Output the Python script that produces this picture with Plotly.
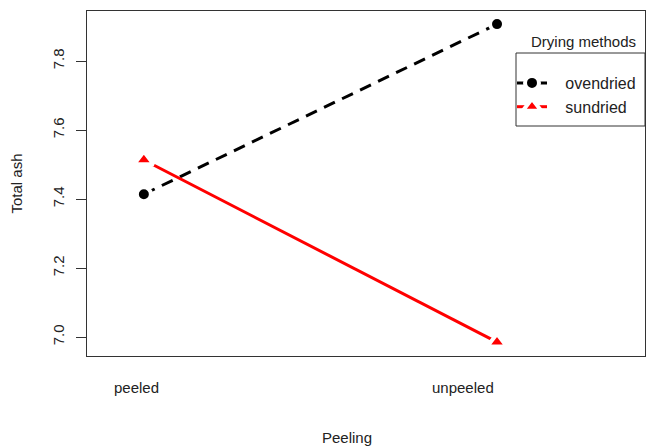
import plotly.graph_objects as go

peeling = ["peeled", "unpeeled"]
x_pos = [1, 2]
ovendried = [7.414, 7.907]
sundried = [7.513, 6.985]
y_ticks = [7.0, 7.2, 7.4, 7.6, 7.8]

font = "Liberation Sans, Arial, sans-serif"
W, H = 649, 448
L, R, T, B = 87, 4, 11, 92
pw, ph = W - L - R, H - T - B
PAD = "\u00a0\u00a0\u00a0"

def px_x(p):
    return (p - L) / pw

def px_y(p):
    return (H - B - p) / ph

fig = go.Figure()
fig.add_trace(go.Scatter(
    x=x_pos, y=ovendried, name=PAD + "ovendried", mode="lines+markers",
    line=dict(color="black", width=3, dash="12px,8px"),
    marker=dict(symbol="circle", size=14, color="black", line=dict(color="white", width=4)),
))
fig.add_trace(go.Scatter(
    x=x_pos, y=sundried, name=PAD + "sundried", mode="lines+markers",
    line=dict(color="red", width=3),
    marker=dict(symbol="triangle-up", size=17, color="red", line=dict(color="white", width=4)),
))

for xv, lab, off in zip(x_pos, peeling, [-0.02, -0.096]):
    fig.add_annotation(x=xv + off, y=px_y(387), xref="x", yref="paper", text=lab,
                       showarrow=False, font=dict(family=font, size=15, color="#222"),
                       yanchor="middle")

fig.add_annotation(x=px_x(347), y=px_y(437), xref="paper", yref="paper", text="Peeling",
                   showarrow=False, font=dict(family=font, size=15, color="#222"),
                   xanchor="center", yanchor="middle")

fig.add_annotation(x=px_x(583), y=px_y(41), xref="paper", yref="paper", text="Drying methods",
                   showarrow=False, font=dict(family=font, size=15, color="#222"),
                   xanchor="center", yanchor="middle")

fig.add_shape(type="rect", xref="paper", yref="paper",
              x0=px_x(516), x1=px_x(645), y0=px_y(126), y1=px_y(53),
              line=dict(color="#333", width=1), fillcolor="rgba(0,0,0,0)", layer="above")

fig.update_layout(
    width=W, height=H,
    margin=dict(l=L, r=R, t=T, b=B, autoexpand=False),
    plot_bgcolor="white", paper_bgcolor="white",
    font=dict(family=font, size=15, color="#222"),
    xaxis=dict(range=[0.839, 2.419], showticklabels=False, ticks="", showgrid=False,
               zeroline=False, showline=True, mirror=True, linecolor="#333", linewidth=1,
               automargin=False),
    yaxis=dict(range=[6.945, 7.945], tickvals=y_ticks, ticktext=[f"{v:.1f}" for v in y_ticks],
               tickangle=-90, ticks="outside", ticklen=10, tickcolor="#333", showgrid=False,
               zeroline=False, showline=True, mirror=True, linecolor="#333", linewidth=1,
               tickfont=dict(size=15), automargin=False, ticklabelstandoff=6,
               title=dict(text="Total ash", standoff=23, font=dict(size=15))),
    legend=dict(x=px_x(512), y=px_y(66), xanchor="left", yanchor="top",
                borderwidth=0, bgcolor="rgba(0,0,0,0)",
                font=dict(size=16), tracegroupgap=0, itemwidth=30),
    showlegend=True,
)

fig.write_html("out.html", config={"displayModeBar": False},
               post_script="document.body.style.margin='0';document.body.style.overflow='hidden';")
